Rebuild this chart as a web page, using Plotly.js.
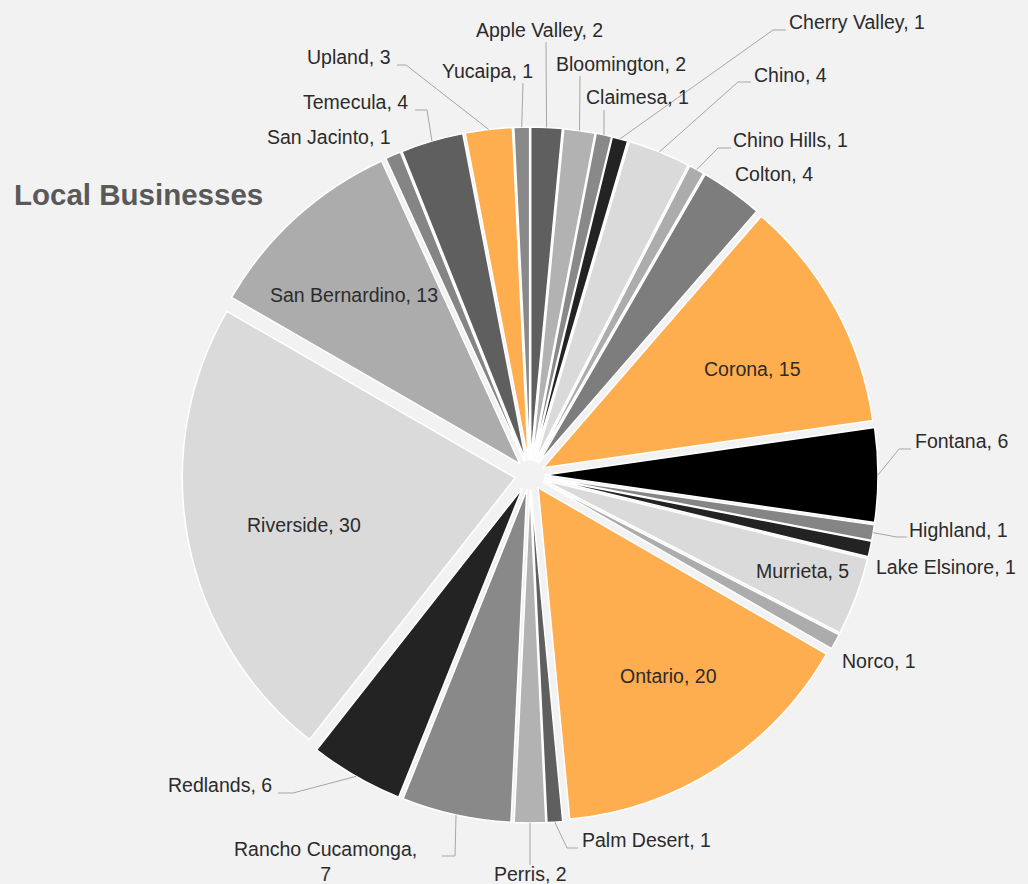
<!DOCTYPE html>
<html>
<head>
<meta charset="utf-8">
<script src="https://cdn.plot.ly/plotly-3.0.1.min.js"></script>
<style>html,body{margin:0;padding:0;background:#f2f2f2;}</style>
</head>
<body>
<div id="chart" style="width:1028px;height:884px;"></div>
<script>
// ---- data ----
const cities = ["Apple Valley","Bloomington","Claimesa","Cherry Valley","Chino","Chino Hills","Colton","Corona","Fontana","Highland","Lake Elsinore","Murrieta","Norco","Ontario","Palm Desert","Perris","Rancho Cucamonga","Redlands","Riverside","San Bernardino","San Jacinto","Temecula","Upland","Yucaipa"];
const counts = [2,2,1,1,4,1,4,15,6,1,1,5,1,20,1,2,7,6,30,13,1,4,3,1];
const labelSep = [", ",", ",", ",", ",", ",", ",", ",", ",", ",", ",", ",", ",", ",", ",", ",", ",",<br>",", ",", ",", ",", ",", ",", ",", "];

// ---- styles ----
const sliceColors = ["#5f5f5f","#b2b2b2","#898989","#232323","#dadada","#acacac","#7d7d7d","#ffae4f","#000000","#858585","#232323","#dadada","#acacac","#ffae4f","#5f5f5f","#b2b2b2","#898989","#232323","#dadada","#acacac","#858585","#5f5f5f","#ffae4f","#898989"];

// ---- label layout (pixel positions of label centres and leader elbows) ----
const labelX = [539.5,621,637,857,790,790,774,752,961,958,946,802,879,668,646,530.5,325.5,220,304,354,329,355,348,487];
const labelY = [30,64,97,21.5,74.5,139.5,174,369,441,529.5,566.5,570.5,661,676,840,874,861.5,785,525,295,136.5,102,57.5,71];
const leaderPts = [
  [[546,42]], [[580,76]], [[604,110]], [[786,30],[773,30]], [[751,82],[738,82]], [[731,148],[718,148]],
  null, null, [[911,449],[899,449]], [[907,537],[897,537]], null, null, null, null,
  [[578,848],[567,848]], [[530,865]], [[442,856],[455,856]], [[278,793],[293,793]],
  null, null, null, [[415,110],[427,110]], [[397,65],[406,65]], [[523,83]]
];

const W = 1028, H = 884;
const CX = 530, CY = 475, HALF = 348, PULL = 0.045;
const px = x => x / W;
const py = y => 1 - y / H;

const total = counts.reduce((a,b)=>a+b,0);
let cum = 0;
const midAngles = counts.map(v => { const m = (cum + v/2) / total * 2 * Math.PI; cum += v; return m; });

const annotations = cities.map((c,i) => ({
  text: c + labelSep[i] + counts[i],
  x: px(labelX[i]), y: py(labelY[i]), xref:'paper', yref:'paper',
  xanchor:'center', yanchor:'middle', showarrow:false, align:'center',
  font:{family:'Liberation Sans, Arial, sans-serif', size:19.5, color:'#2b2b2b'}
}));

const shapes = [];
leaderPts.forEach((pts,i) => {
  if (!pts) return;
  const a = midAngles[i];
  const ex = CX + HALF * Math.sin(a), ey = CY - HALF * Math.cos(a);
  const all = pts.concat([[ex,ey]]);
  const path = all.map((p,k) => (k ? 'L' : 'M') + px(p[0]) + ',' + py(p[1])).join(' ');
  shapes.push({type:'path', xref:'paper', yref:'paper', path:path, line:{color:'#a6a6a6', width:1}});
});

const trace = {
  type:'pie', labels:cities, values:counts, sort:false, direction:'clockwise', rotation:0,
  marker:{colors:sliceColors, line:{color:'#ffffff', width:1.5}},
  pull:PULL, textinfo:'none', hoverinfo:'none', showlegend:false,
  domain:{x:[px(CX-HALF), px(CX+HALF)], y:[py(CY+HALF), py(CY-HALF)]}
};

const layout = {
  width:W, height:H, margin:{l:0,r:0,t:0,b:0},
  paper_bgcolor:'#f2f2f2', plot_bgcolor:'#f2f2f2', showlegend:false,
  title:{text:'<b>Local Businesses</b>', x:px(14), xanchor:'left', xref:'paper', y:py(195), yanchor:'middle', yref:'paper',
    font:{family:'Liberation Sans, Arial, sans-serif', size:29.5, color:'#595959'}},
  annotations:annotations, shapes:shapes
};

Plotly.newPlot('chart',[trace],layout,{staticPlot:true, displayModeBar:false});
</script>
</body>
</html>
